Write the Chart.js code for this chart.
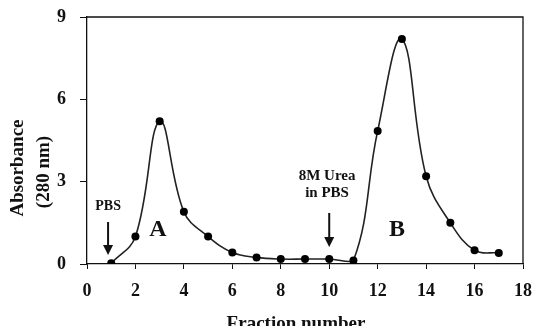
<!DOCTYPE html>
<html>
<head>
<meta charset="utf-8">
<script src="https://cdn.jsdelivr.net/npm/chart.js@4"></script>
<style>
	html, body { margin: 0; padding: 0; background: #fff; }
	#wrap { width: 533px; height: 326px; }
</style>
</head>
<body>
<div id="wrap"><canvas id="chart"></canvas></div>
<script>
// Fraction number vs absorbance at 280 nm
const fractions = [1, 2, 3, 4, 5, 6, 7, 8, 9, 10, 11, 12, 13, 14, 15, 16, 17];
const absorbance = [0.03, 1.0, 5.2, 1.9, 1.0, 0.42, 0.24, 0.18, 0.18, 0.18, 0.13, 4.85, 8.2, 3.2, 1.5, 0.5, 0.4];
const xTicks = [0, 2, 4, 6, 8, 10, 12, 14, 16, 18];
const yTicks = [0, 3, 6, 9];

// text labels and arrows, in data units
const labels = [
	{ text: 'PBS', x: 0.87, y: 2.1, size: 14 },
	{ text: 'A', x: 2.93, y: 1.24, size: 24 },
	{ text: '8M Urea', x: 9.91, y: 3.2, size: 15 },
	{ text: 'in PBS', x: 9.91, y: 2.57, size: 15 },
	{ text: 'B', x: 12.8, y: 1.24, size: 24 }
];
const arrows = [
	{ x: 0.87, from: 1.53, to: 0.33 },
	{ x: 10, from: 1.86, to: 0.62 }
];

const SERIF = '"Liberation Serif", "Times New Roman", serif';

// frame, axis titles and annotations
const extras = {
	id: 'extras',
	afterDatasetsDraw(chart) {
		const { ctx, chartArea: a, scales: { x, y } } = chart;
		ctx.save();
		ctx.strokeStyle = '#111';
		ctx.lineWidth = 1.3;
		ctx.beginPath();
		ctx.moveTo(a.left, a.top);
		ctx.lineTo(a.right, a.top);
		ctx.lineTo(a.right, a.bottom);
		ctx.stroke();

		ctx.fillStyle = '#111';
		ctx.textAlign = 'center';
		ctx.textBaseline = 'middle';
		labels.forEach(l => {
			ctx.font = `bold ${l.size}px ${SERIF}`;
			ctx.fillText(l.text, x.getPixelForValue(l.x), y.getPixelForValue(l.y));
		});

		// axis titles
		ctx.font = `bold 19px ${SERIF}`;
		ctx.fillText('Fraction number', 296, a.bottom + 60);
		ctx.save();
		ctx.translate(a.left - 69, 168);
		ctx.rotate(-Math.PI / 2);
		ctx.fillText('Absorbance', 0, 0);
		ctx.fillText('(280 nm)', -4, 26);
		ctx.restore();

		ctx.lineWidth = 2;
		arrows.forEach(ar => {
			const px = x.getPixelForValue(ar.x);
			const y0 = y.getPixelForValue(ar.from);
			const y1 = y.getPixelForValue(ar.to);
			ctx.beginPath();
			ctx.moveTo(px, y0);
			ctx.lineTo(px, y1 - 8);
			ctx.stroke();
			ctx.beginPath();
			ctx.moveTo(px - 5, y1 - 10);
			ctx.lineTo(px + 5, y1 - 10);
			ctx.lineTo(px, y1);
			ctx.closePath();
			ctx.fill();
		});
		ctx.restore();
	}
};

new Chart(document.getElementById('chart'), {
	type: 'line',
	data: {
		datasets: [{
			data: fractions.map((f, i) => ({ x: f, y: absorbance[i] })),
			borderColor: '#222',
			borderWidth: 1.6,
			backgroundColor: '#000',
			pointRadius: 4,
			pointBorderWidth: 0,
			tension: 0.4,
			fill: false
		}]
	},
	options: {
		responsive: true,
		maintainAspectRatio: false,
		animation: false,
		layout: { padding: { top: 17, right: 10, left: 0, bottom: 0 } },
		plugins: { legend: { display: false }, tooltip: { enabled: false } },
		scales: {
			x: {
				type: 'linear',
				min: 0, max: 18,
				afterBuildTicks: s => { s.ticks = xTicks.map(v => ({ value: v })); },
				afterFit: s => { s.height = 62; s.paddingLeft = 0; s.paddingRight = 0; },
				border: { color: '#111', width: 1.3 },
				grid: { drawOnChartArea: false, drawTicks: true, tickLength: 5, color: '#111' },
				ticks: { color: '#111', padding: 12, font: { family: SERIF, size: 18, weight: 'bold' } }
			},
			y: {
				min: 0, max: 9,
				afterBuildTicks: s => { s.ticks = yTicks.map(v => ({ value: v })); },
				afterFit: s => { s.width = 87; s.paddingTop = 0; s.paddingBottom = 0; },
				border: { color: '#111', width: 1.3 },
				grid: { drawOnChartArea: false, drawTicks: true, tickLength: 7, color: '#111' },
				ticks: { color: '#111', padding: 14, font: { family: SERIF, size: 18, weight: 'bold' } }
			}
		}
	},
	plugins: [extras]
});
</script>
</body>
</html>
